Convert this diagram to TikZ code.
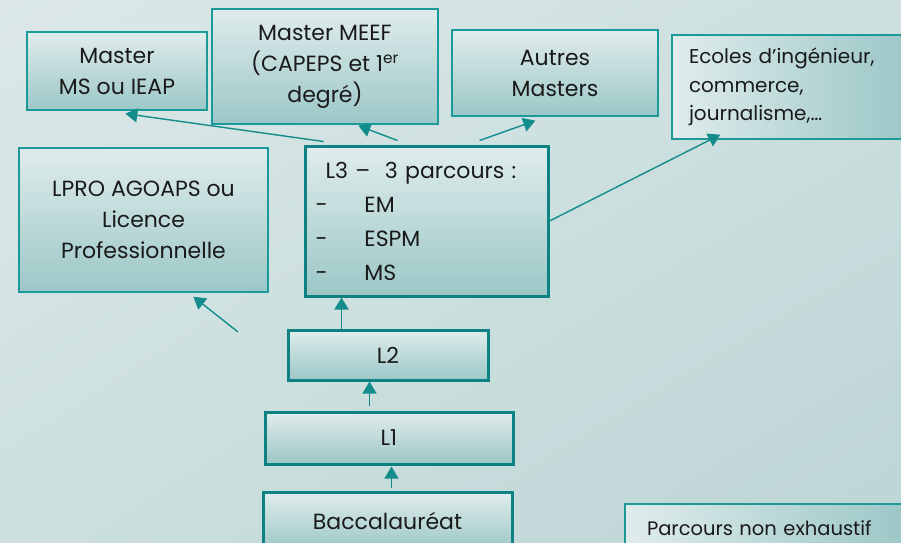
\documentclass[tikz,border=0pt]{standalone}
\usepackage{fontspec}
\setmainfont{Poppins}
\usetikzlibrary{arrows.meta,calc,shadings}
\definecolor{bgA}{HTML}{DCE8E8}
\definecolor{bgB}{HTML}{CDDFDF}
\definecolor{bgC}{HTML}{BDD5D5}
\definecolor{boxTop}{HTML}{E0ECEC}
\definecolor{boxBot}{HTML}{9CC7C7}
\definecolor{edgeThin}{HTML}{1C9A9A}
\definecolor{edgeThick}{HTML}{0E8282}
\definecolor{arr}{HTML}{138C8C}
\definecolor{txt}{HTML}{1A1A1A}
\tikzset{
  box/.style={rectangle, draw=edgeThin, line width=1.3pt, top color=boxTop, bottom color=boxBot,
     inner sep=0pt, align=center, text=txt, font=\fontsize{22}{31}\selectfont},
  hbox/.style={rectangle, draw=edgeThin, line width=1.3pt, left color=boxTop, right color=boxBot,
     inner sep=0pt, align=left, text=txt},
  thick box/.style={box, draw=edgeThick, line width=3pt},
  link/.style={draw=arr, line width=1.4pt, -{Triangle[width=14pt,length=12pt]}}
}
\begin{document}
\begin{tikzpicture}[x=1pt,y=-1pt]
\useasboundingbox (0,0) rectangle (901,542);
\shade[upper left=bgA, upper right=bgB, lower left=bgB, lower right=bgC] (0,0) rectangle (901,542);

\node[box, minimum width=180pt, minimum height=78pt] (msm) at (117,71) {Master\\MS ou IEAP};
\node[box, minimum width=226pt, minimum height=115pt] (meef) at (325,66.5) {Master MEEF\\(CAPEPS et 1\textsuperscript{er}\\degré)};
\node[box, minimum width=206pt, minimum height=86pt] (autres) at (555,73) {Autres\\Masters};
\node[hbox, minimum width=234pt, minimum height=104pt, text width=200pt, font=\fontsize{20}{28.5}\selectfont] (ecoles) at (789,87) {Ecoles d’ingénieur,\\commerce,\\journalisme,…};
\node[box, minimum width=249pt, minimum height=144pt] (lpro) at (143.5,220) {LPRO AGOAPS ou\\Licence\\Professionnelle};
\node[thick box, minimum width=243pt, minimum height=150pt, text width=222pt, align=left, font=\fontsize{22}{34}\selectfont] (L3) at (426.5,221)
  {\hspace*{10pt}L3 –\ \ 3 parcours :\\\makebox[49pt][l]{-}EM\\\makebox[49pt][l]{-}ESPM\\\makebox[49pt][l]{-}MS};
\node[thick box, minimum width=200pt, minimum height=50pt] (L2) at (388,355) {L2};
\node[thick box, minimum width=248pt, minimum height=52pt] (L1) at (389,438) {L1};
\node[thick box, minimum width=249pt, minimum height=58pt] (bac) at (387.5,521) {Baccalauréat};
\node[hbox, minimum width=280pt, minimum height=48pt, text width=236pt, font=\fontsize{19.5}{22}\selectfont] (parcours) at (765,528) {Parcours non exhaustif};

\coordinate (lfree) at (238,332);

\draw[link] ([xshift=20pt,yshift=3pt]L3.north west) -- ([xshift=99pt,yshift=-3pt]msm.south west);
\draw[link] ([xshift=94pt,yshift=4pt]L3.north west) -- ([xshift=147pt,yshift=-1pt]meef.south west);
\draw[link] ([xshift=176pt,yshift=4pt]L3.north west) -- ([xshift=84pt,yshift=-4pt]autres.south west);
\draw[link] (L3.east) -- ([xshift=49pt,yshift=5pt]ecoles.south west);
\draw[link] (lfree) -- ([xshift=175pt,yshift=-4pt]lpro.south west);
\draw[link] ([xshift=55pt]L2.north west) -- ([xshift=38pt]L3.south west);
\draw[link] ([xshift=106pt,yshift=5pt]L1.north west) -- ([xshift=83pt]L2.south west);
\draw[link] ([xshift=130pt,yshift=3pt]bac.north west) -- ([xshift=128pt,yshift=-1pt]L1.south west);
\end{tikzpicture}
\end{document}
